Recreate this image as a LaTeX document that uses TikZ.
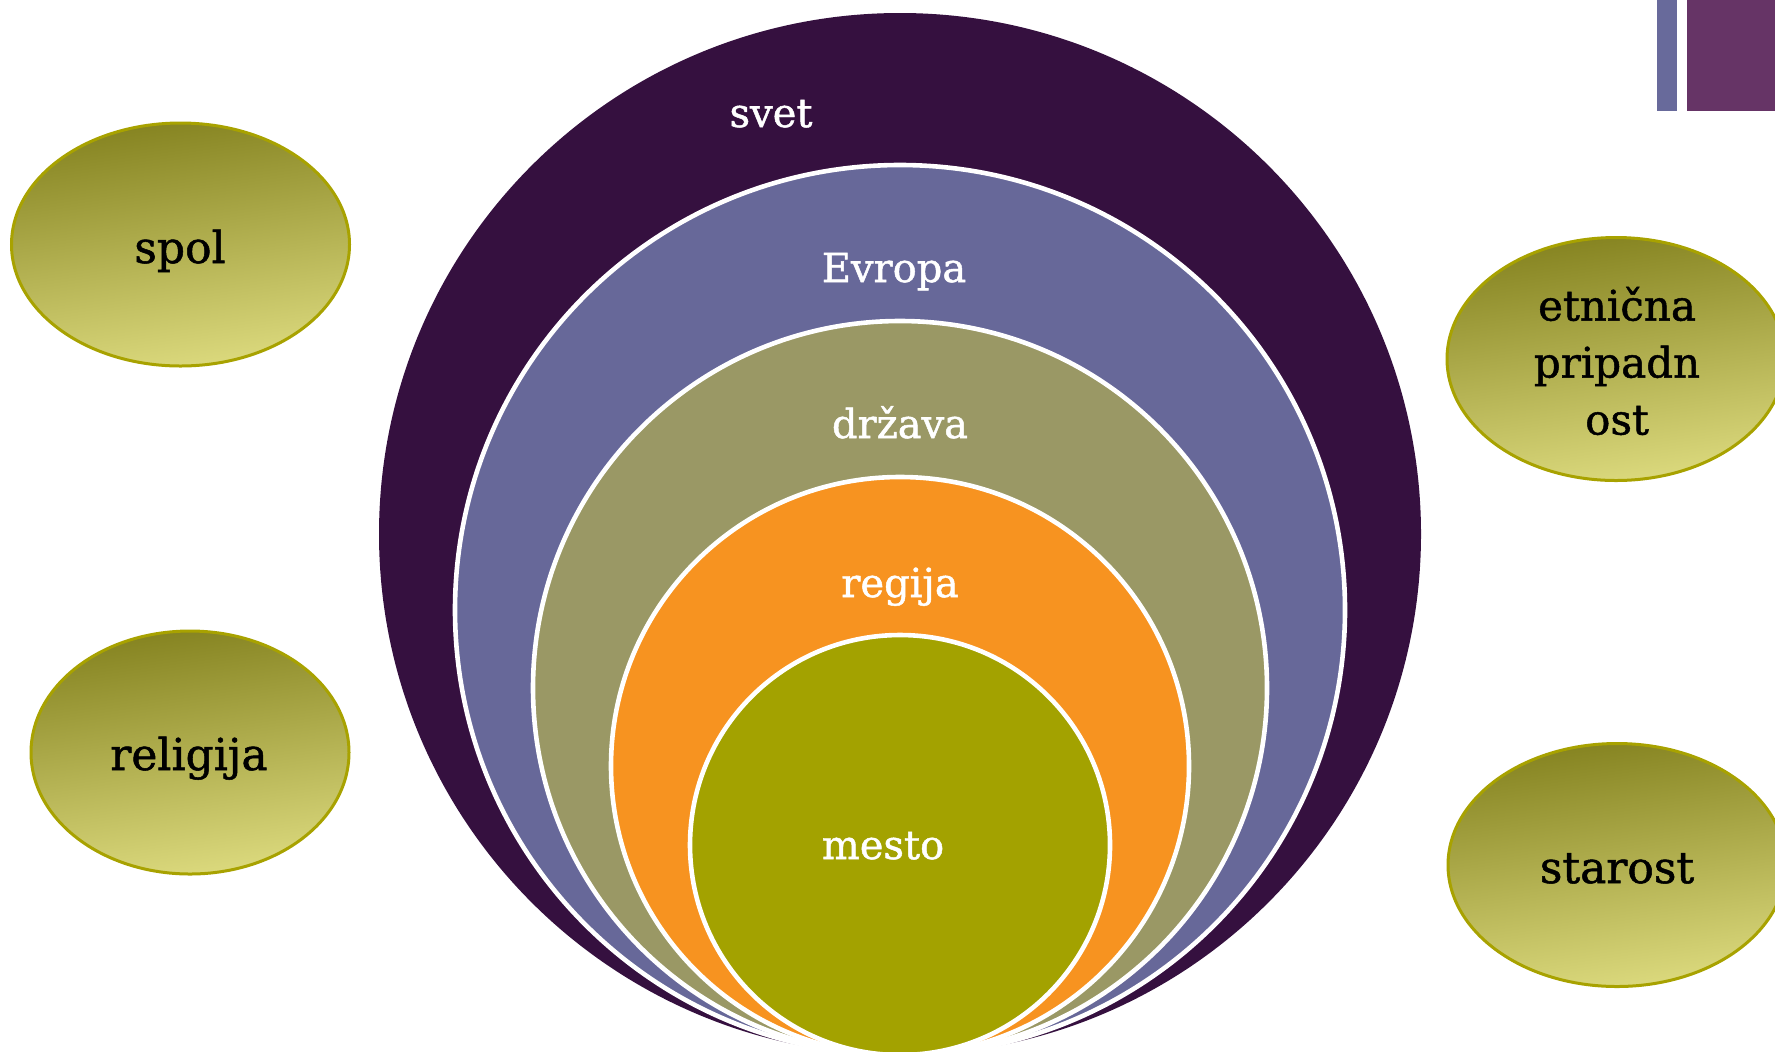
\documentclass[tikz,border=0pt]{standalone}
\usepackage{fontspec}
\setmainfont{DejaVu Serif}[FakeBold=1.2]
\usetikzlibrary{shapes.geometric}
\definecolor{svetc}{HTML}{35103F}
\definecolor{evropac}{HTML}{676899}
\definecolor{drzavac}{HTML}{9A9865}
\definecolor{regijac}{HTML}{F79320}
\definecolor{mestoc}{HTML}{A3A200}
\definecolor{barblue}{HTML}{686A9B}
\definecolor{barpurple}{HTML}{663466}
\definecolor{ovaltop}{HTML}{858320}
\definecolor{ovalbot}{HTML}{DCDA7E}
\definecolor{ovalline}{HTML}{A8A200}
\tikzset{
  ring/.style={draw=white, line width=2.3pt},
  ringtext/.style={text=white, anchor=base, inner sep=0pt, font=\fontsize{20}{24}\selectfont},
  oval/.style={ellipse, draw=ovalline, line width=1.5pt, top color=ovaltop, bottom color=ovalbot,
    shading angle=8, minimum width=169pt, minimum height=121.5pt, inner sep=0pt},
  ovaltext/.style={text=black, inner sep=0pt, font=\fontsize{22}{26}\selectfont, align=center}
}
\begin{document}
\begin{tikzpicture}[x=0.5pt,y=-0.5pt]
\useasboundingbox (0,0) rectangle (1775,1051);
\clip (0,0) rectangle (1775,1051);
% corner bars
\fill[barblue] (1657,0) rectangle (1677,111);
\fill[barpurple] (1687,0) rectangle (1775,111);
% nested circles
\fill[svetc] (900,534) circle[radius=521];
\filldraw[fill=evropac, ring] (900,610) circle[radius=445];
\filldraw[fill=drzavac, ring] (900,688) circle[radius=367];
\filldraw[fill=regijac, ring] (900,766) circle[radius=289];
\filldraw[fill=mestoc, ring] (900,845) circle[radius=210];
% circle labels
\node[ringtext] (svet) at (771,127) {svet};
\node[ringtext] (evropa) at (894,282) {Evropa};
\node[ringtext] (drzava) at (900,438) {država};
\node[ringtext] (regija) at (900,597) {regija};
\node[ringtext] (mesto) at (883,859) {mesto};
% ellipses
\node[oval] (spolE) at (180.5,244.5) {};
\node[oval, minimum width=159pt] (religijaE) at (190,752.5) {};
\node[oval] (etnicnaE) at (1616,359) {};
\node[oval] (starostE) at (1617,865) {};
\node[ovaltext, anchor=base] (spol) at (180,263) {spol};
\node[ovaltext, anchor=base] (religija) at (189,770) {religija};
\node[ovaltext, anchor=base] (starost) at (1617,883) {starost};
\node[ovaltext, font=\fontsize{21}{28.5}\selectfont] (etnicna) at (1617,361) {etnična\\pripadn\\ost};
\end{tikzpicture}
\end{document}
